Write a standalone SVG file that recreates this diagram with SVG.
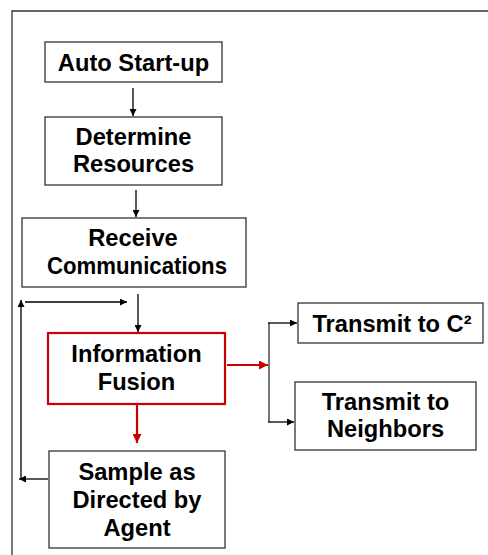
<svg xmlns="http://www.w3.org/2000/svg" width="488" height="555" viewBox="0 0 488 555">
<style>
.box{fill:#fff;stroke:#333;stroke-width:1.3}
.red{fill:#fff;stroke:#CC0000;stroke-width:2.2}
.t{font-family:"Liberation Sans",Arial,sans-serif;font-weight:bold;font-size:23.7px;fill:#000;text-anchor:middle}
.c{fill:none;stroke:#000;stroke-width:1.3}
.cr{fill:none;stroke:#CC0000;stroke-width:2.2}
.cg{fill:none;stroke:#777;stroke-width:2}
</style>
<defs>
<marker id="ah" viewBox="0 0 10 10" refX="10" refY="5" markerWidth="7" markerHeight="7" markerUnits="userSpaceOnUse" orient="auto"><path d="M0,0L10,5L0,10z" fill="#000"/></marker>
<marker id="ahr" viewBox="0 0 10 10" refX="10" refY="5" markerWidth="9" markerHeight="9" markerUnits="userSpaceOnUse" orient="auto"><path d="M0,0L10,5L0,10z" fill="#CC0000"/></marker>
</defs>
<rect width="488" height="555" fill="#fff"/>
<g id="frame">
<path d="M12,555V11H488" fill="none" stroke="#333" stroke-width="1.3"/>
</g>
<g id="connectors">
<path class="c" d="M133,88V116" marker-end="url(#ah)"/>
<path class="c" d="M136,190V217" marker-end="url(#ah)"/>
<path class="c" d="M138,294V332" marker-end="url(#ah)"/>
<path class="cr" d="M137,405V443" marker-end="url(#ahr)"/>
<path class="cr" d="M227,365H268" marker-end="url(#ahr)"/>
<path class="cg" d="M269,323V422"/>
<path class="c" d="M268,323H297" marker-end="url(#ah)"/>
<path class="c" d="M268,422H294" marker-end="url(#ah)"/>
<path class="c" d="M48,479H19" marker-end="url(#ah)"/>
<path class="c" d="M21,479V300" marker-end="url(#ah)"/>
<path class="c" d="M25,302H127" marker-end="url(#ah)"/>
</g>
<g id="auto-startup">
<rect class="box" x="45" y="42" width="177" height="40"/>
<text class="t" x="133.5" y="71">Auto Start-up</text>
</g>
<g id="determine-resources">
<rect class="box" x="45" y="117" width="177" height="68"/>
<text class="t" x="133.5" y="145">Determine</text>
<text class="t" x="133.5" y="172">Resources</text>
</g>
<g id="receive-communications">
<rect class="box" x="22" y="218" width="224" height="69"/>
<text class="t" x="133" y="246">Receive</text>
<text class="t" x="137" y="274" textLength="180" lengthAdjust="spacingAndGlyphs">Communications</text>
</g>
<g id="information-fusion">
<rect class="red" x="48" y="333" width="177" height="71"/>
<text class="t" x="136.5" y="362">Information</text>
<text class="t" x="136.5" y="390">Fusion</text>
</g>
<g id="sample">
<rect class="box" x="49" y="451" width="176" height="97"/>
<text class="t" x="137" y="480">Sample as</text>
<text class="t" x="137" y="508">Directed by</text>
<text class="t" x="137" y="536">Agent</text>
</g>
<g id="transmit-c2">
<rect class="box" x="298" y="303" width="185" height="40"/>
<text class="t" x="392" y="332">Transmit to C²</text>
</g>
<g id="transmit-neighbors">
<rect class="box" x="295" y="382" width="181" height="68"/>
<text class="t" x="385.5" y="410">Transmit to</text>
<text class="t" x="385.5" y="437">Neighbors</text>
</g>
</svg>
